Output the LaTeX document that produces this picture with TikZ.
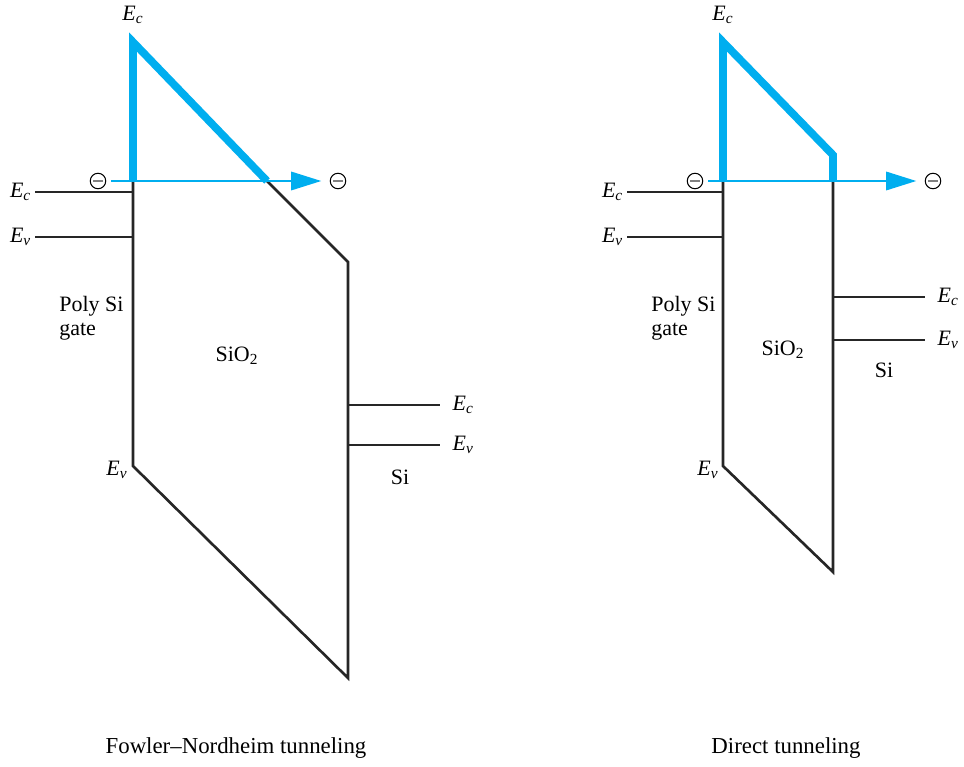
\documentclass[tikz,border=0pt]{standalone}
\usepackage{fontspec}
\setmainfont{Liberation Serif}
\usetikzlibrary{positioning, arrows.meta}
\definecolor{bandblue}{RGB}{0,174,239}
\newcommand{\Ec}{\textit{E}\textsubscript{\textit{c}}}
\newcommand{\Ev}{\textit{E}\textsubscript{\textit{v}}}
\tikzset{
  % Band diagram lines
  bandedge/.style  = { line width=1.5pt, black!85 },
  barrier/.style   = { line width=4.4pt, bandblue, line join=miter },
  level/.style     = { line width=0.75pt, black!85 },
  tunnel/.style    = { line width=0.9pt, bandblue,
                       -{Triangle[length=0.6cm, width=0.37cm]} },
  electron/.style  = { circle, draw, line width=0.6pt, minimum size=0.31cm, inner sep=0,
                       path picture = {
                         \draw[gray, line width=1.3pt]
                           ([xshift=-0.1cm]path picture bounding box.center) -- ++(0.2cm,0);
                       } },
  % Labels
  levellabel/.style  = { font=\fontsize{12.5}{15}\selectfont, inner sep=1pt },
  regionlabel/.style = { font=\fontsize{12.5}{13.5}\selectfont, align=left, inner sep=0 },
  caption/.style     = { font=\fontsize{13}{15}\selectfont }
}

\begin{document}
\begin{tikzpicture}[x=0.02cm, y=-0.02cm]
  \useasboundingbox (0,0) rectangle (964,767);

  % Fowler--Nordheim
  \coordinate (fnGateTop) at (133,181);
  \coordinate (fnPeak)    at (133,42);
  \coordinate (fnCross)   at (267,181);
  \coordinate (fnOxTop)   at (348,262);
  \coordinate (fnOxBot)   at (348,678);
  \coordinate (fnGateBot) at (133,466);
  \coordinate (fnEcL) at (35,192);
  \coordinate (fnEvL) at (35,237);
  \coordinate (fnEcR) at (440,405);
  \coordinate (fnEvR) at (440,445);

  \draw[bandedge] (fnCross) -- (fnOxTop) -- (fnOxBot) -- (fnGateBot) -- (fnGateTop);
  \draw[barrier] (fnGateTop) -- (fnPeak) -- (fnCross);
  \draw[level] (fnEcL) -- (fnEcL -| fnGateTop);
  \draw[level] (fnEvL) -- (fnEvL -| fnGateTop);
  \draw[level] (fnEcR -| fnOxTop) -- (fnEcR);
  \draw[level] (fnEvR -| fnOxTop) -- (fnEvR);

  \node[electron] (fnIn)  at (98,181) {};
  \node[electron] (fnOut) at (338,181) {};
  \draw[tunnel, shorten <=0.1cm, shorten >=0.17cm] (fnIn) -- (fnOut);

  \node[levellabel] (fnEcTop) at (133,15) {\Ec};
  \node[levellabel, left=1pt of fnEcL] (fnEcLlab) {\Ec};
  \node[levellabel, left=1pt of fnEvL] (fnEvLlab) {\Ev};
  \node[levellabel, right=6pt of fnEcR] (fnEcRlab) {\Ec};
  \node[levellabel, right=6pt of fnEvR] (fnEvRlab) {\Ev};
  \node[levellabel] (fnEvGate) at (117,470) {\Ev};
  \node[regionlabel, anchor=west] (fnGate) at (59,318) {Poly Si\\gate};
  \node[levellabel] (fnOx) at (237,356) {SiO\textsubscript{2}};
  \node[levellabel] (fnSi) at (400,477) {Si};
  \node[caption] (fnCap) at (236,748) {Fowler--Nordheim tunneling};

  % Direct
  \coordinate (dtGateTop) at (723,181);
  \coordinate (dtPeak)    at (723,42);
  \coordinate (dtStep)    at (833,155);
  \coordinate (dtOxTop)   at (833,181);
  \coordinate (dtOxBot)   at (833,572);
  \coordinate (dtGateBot) at (723,466);
  \coordinate (dtEcL) at (627,192);
  \coordinate (dtEvL) at (627,237);
  \coordinate (dtEcR) at (925,297);
  \coordinate (dtEvR) at (925,340);

  \draw[bandedge] (dtOxTop) -- (dtOxBot) -- (dtGateBot) -- (dtGateTop);
  \draw[barrier] (dtGateTop) -- (dtPeak) -- (dtStep) -- (dtOxTop);
  \draw[level] (dtEcL) -- (dtEcL -| dtGateTop);
  \draw[level] (dtEvL) -- (dtEvL -| dtGateTop);
  \draw[level] (dtEcR -| dtOxTop) -- (dtEcR);
  \draw[level] (dtEvR -| dtOxTop) -- (dtEvR);

  \node[electron] (dtIn)  at (695,181) {};
  \node[electron] (dtOut) at (933,181) {};
  \draw[tunnel, shorten <=0.1cm, shorten >=0.17cm] (dtIn) -- (dtOut);

  \node[levellabel] (dtEcTop) at (723,15) {\Ec};
  \node[levellabel, left=1pt of dtEcL] (dtEcLlab) {\Ec};
  \node[levellabel, left=1pt of dtEvL] (dtEvLlab) {\Ev};
  \node[levellabel, right=6pt of dtEcR] (dtEcRlab) {\Ec};
  \node[levellabel, right=6pt of dtEvR] (dtEvRlab) {\Ev};
  \node[levellabel] (dtEvGate) at (708,470) {\Ev};
  \node[regionlabel, anchor=west] (dtGate) at (651,318) {Poly Si\\gate};
  \node[levellabel] (dtOx) at (783,350) {SiO\textsubscript{2}};
  \node[levellabel] (dtSi) at (884,370) {Si};
  \node[caption] (dtCap) at (786,748) {Direct tunneling};

\end{tikzpicture}
\end{document}
